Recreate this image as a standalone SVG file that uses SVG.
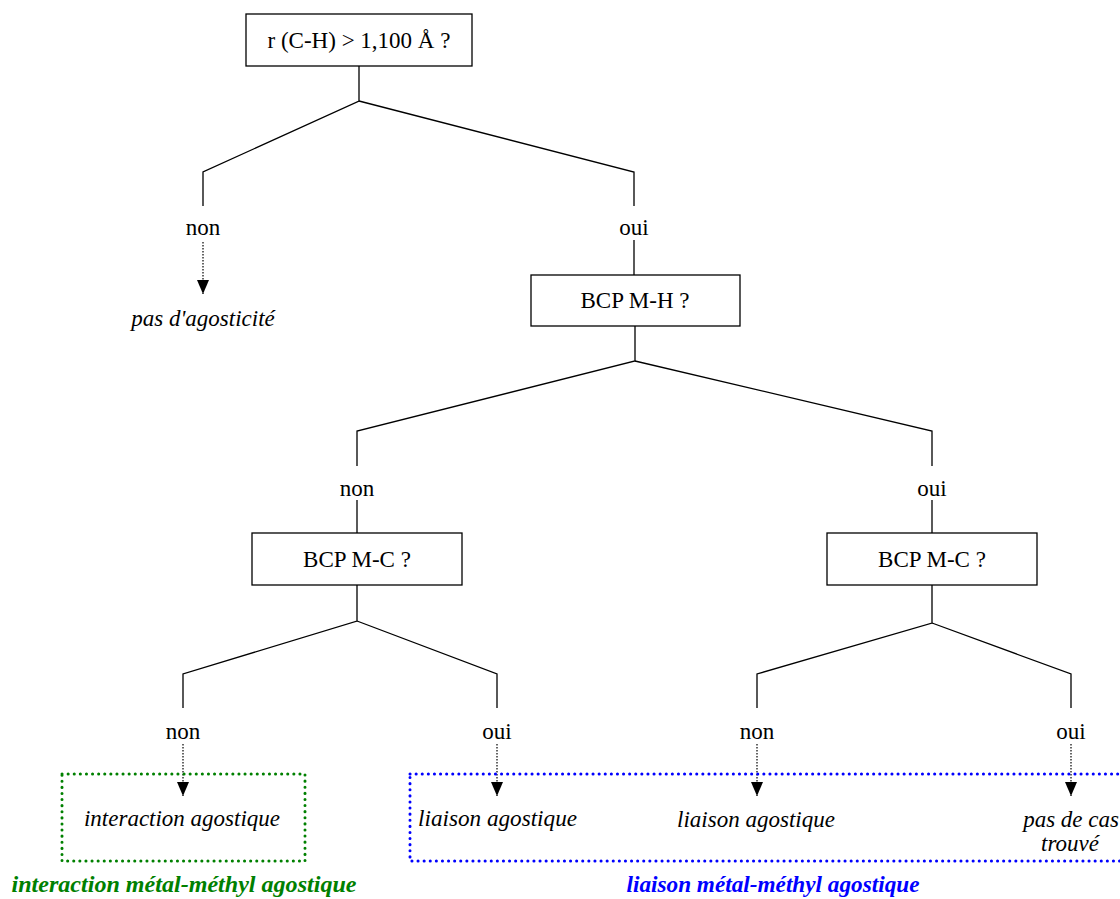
<svg xmlns="http://www.w3.org/2000/svg" width="1120" height="899" viewBox="0 0 1120 899">
<defs>
<marker id="ah" markerWidth="14" markerHeight="12" refX="14" refY="6" orient="auto" markerUnits="userSpaceOnUse" viewBox="0 0 14 12">
<path d="M0,0 L14,6 L0,12 Z" fill="#000"/>
</marker>
</defs>
<style>
.box{fill:#fff;stroke:#000;stroke-width:1.3}
.ln{fill:none;stroke:#000;stroke-width:1.3}
.dot{fill:none;stroke:#000;stroke-width:1.2;stroke-dasharray:1.5 1.5}
.t{font-family:"Liberation Serif",serif;font-size:23px;fill:#000;text-anchor:middle}
.i{font-family:"Liberation Serif",serif;font-size:23px;font-style:italic;fill:#000;text-anchor:middle}
.gb{fill:none;stroke:#008000;stroke-width:3;stroke-dasharray:0.1 6;stroke-linecap:round}
.bb{fill:none;stroke:#0000ff;stroke-width:3;stroke-dasharray:0.1 6;stroke-linecap:round}
.lg{font-family:"Liberation Serif",serif;font-size:23px;font-style:italic;font-weight:bold;text-anchor:middle}
</style>
<g id="connectors">
<polyline class="ln" points="359,66 359,101 203,172 203,206"/>
<polyline class="ln" points="359,101 634,172 634,206"/>
<line class="ln" x1="634" y1="240" x2="634" y2="275"/>
<polyline class="ln" points="635,326 635,361 357,431 357,466"/>
<polyline class="ln" points="635,361 932,431 932,466"/>
<line class="ln" x1="357" y1="500" x2="357" y2="533"/>
<line class="ln" x1="932" y1="500" x2="932" y2="533"/>
<polyline class="ln" points="357,585 357,621 183,674 183,708"/>
<polyline class="ln" points="357,621 497,674 497,708"/>
<polyline class="ln" points="932,585 932,623 757,674 757,708"/>
<polyline class="ln" points="932,623 1071,674 1071,708"/>
<line class="dot" x1="203" y1="242" x2="203" y2="294" marker-end="url(#ah)"/>
<line class="dot" x1="183" y1="744" x2="183" y2="796" marker-end="url(#ah)"/>
<line class="dot" x1="497" y1="744" x2="497" y2="796" marker-end="url(#ah)"/>
<line class="dot" x1="757" y1="744" x2="757" y2="796" marker-end="url(#ah)"/>
<line class="dot" x1="1071" y1="744" x2="1071" y2="796" marker-end="url(#ah)"/>
</g>
<g id="n-root"><rect class="box" x="246" y="14" width="226" height="52"/><text class="t" x="359" y="48">r (C-H) &gt; 1,100 Å ?</text></g>
<g id="l-non1"><text class="t" x="203" y="235">non</text></g>
<g id="l-oui1"><text class="t" x="634" y="235">oui</text></g>
<g id="n-pasagost"><text class="i" x="203" y="326">pas d'agosticité</text></g>
<g id="n-bcpmh"><rect class="box" x="531" y="275" width="209" height="51"/><text class="t" x="635" y="308">BCP M-H ?</text></g>
<g id="l-non2"><text class="t" x="357" y="496">non</text></g>
<g id="l-oui2"><text class="t" x="932" y="496">oui</text></g>
<g id="n-bcpmc1"><rect class="box" x="252" y="533" width="210" height="52"/><text class="t" x="357" y="567">BCP M-C ?</text></g>
<g id="n-bcpmc2"><rect class="box" x="827" y="533" width="210" height="52"/><text class="t" x="932" y="567">BCP M-C ?</text></g>
<g id="l-non3"><text class="t" x="183" y="739">non</text></g>
<g id="l-oui3"><text class="t" x="497" y="739">oui</text></g>
<g id="l-non4"><text class="t" x="757" y="739">non</text></g>
<g id="l-oui4"><text class="t" x="1071" y="739">oui</text></g>
<g id="grp-green">
<rect class="gb" x="62" y="774" width="243" height="87"/>
<text class="i" x="182" y="826">interaction agostique</text>
<text class="lg" x="184" y="892" fill="#008000" textLength="345" lengthAdjust="spacingAndGlyphs">interaction métal-méthyl agostique</text>
</g>
<g id="grp-blue">
<rect class="bb" x="410" y="774" width="720" height="87"/>
<text class="i" x="418" y="826" style="text-anchor:start" textLength="159" lengthAdjust="spacingAndGlyphs">liaison agostique</text>
<text class="i" x="756" y="827" textLength="158" lengthAdjust="spacingAndGlyphs">liaison agostique</text>
<text class="i" x="1119" y="827" style="text-anchor:end">pas de cas</text>
<text class="i" x="1099" y="851" style="text-anchor:end">trouvé</text>
<text class="lg" x="773" y="892" fill="#0000ff" textLength="293" lengthAdjust="spacingAndGlyphs">liaison métal-méthyl agostique</text>
</g>
</svg>
